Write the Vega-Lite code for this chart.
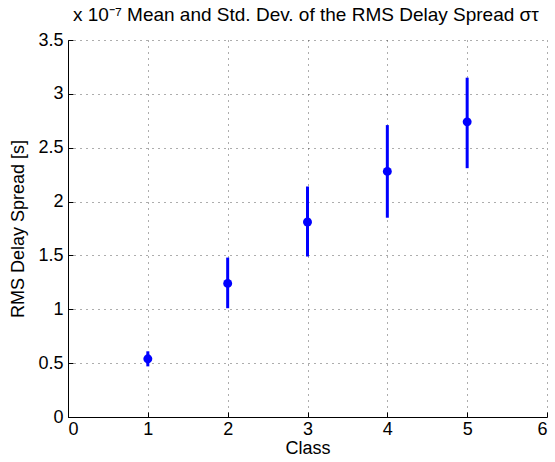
{
  "$schema": "https://vega.github.io/schema/vega-lite/v6.json",
  "width": 479,
  "height": 377,
  "autosize": {"type": "none"},
  "padding": {"left": 68, "top": 40, "right": 8, "bottom": 45},
  "background": "white",
  "config": {
    "font": "Liberation Sans",
    "view": {"stroke": null},
    "axis": {
      "domainColor": "black",
      "domainWidth": 1,
      "tickColor": "black",
      "tickSize": -5,
      "labelColor": "black",
      "labelFontSize": 18,
      "titleFontSize": 18,
      "titleFontWeight": "normal",
      "titleColor": "black",
      "gridColor": "#333333",
      "gridDash": [1, 5],
      "gridOpacity": 0.8,
      "labelFont": "Liberation Sans",
      "titleFont": "Liberation Sans"
    }
  },
  "title": {
    "text": "x 10⁻⁷ Mean and Std. Dev. of the RMS Delay Spread στ",
    "anchor": "start",
    "frame": "group",
    "fontSize": 19,
    "fontWeight": "normal",
    "font": "Liberation Sans",
    "color": "black",
    "offset": 6,
    "dx": 5
  },
  "data": {
    "values": [
      {"cls": 1, "mean": 5.4e-8, "lo": 4.7e-8, "hi": 6.1e-8},
      {"cls": 2, "mean": 1.24e-7, "lo": 1.01e-7, "hi": 1.48e-7},
      {"cls": 3, "mean": 1.81e-7, "lo": 1.49e-7, "hi": 2.14e-7},
      {"cls": 4, "mean": 2.28e-7, "lo": 1.85e-7, "hi": 2.71e-7},
      {"cls": 5, "mean": 2.74e-7, "lo": 2.31e-7, "hi": 3.15e-7}
    ]
  },
  "layer": [
    {
      "mark": {"type": "rule", "color": "#0000ff", "strokeWidth": 3},
      "encoding": {
        "x": {
          "field": "cls",
          "type": "quantitative",
          "scale": {"domain": [0, 6], "nice": false},
          "axis": {"values": [0, 1, 2, 3, 4, 5, 6], "format": "d", "grid": true, "title": "Class", "titlePadding": 1, "labelPadding": 8}
        },
        "y": {
          "field": "lo",
          "type": "quantitative",
          "scale": {"domain": [0, 3.5e-7], "nice": false},
          "axis": {
            "values": [0, 5e-8, 1e-7, 1.5e-7, 2e-7, 2.5e-7, 3e-7, 3.5e-7],
            "labelExpr": "format(datum.value*1e7, '~g')",
            "grid": true,
            "title": "RMS Delay Spread [s]",
            "titlePadding": 10,
            "labelPadding": 10
          }
        },
        "y2": {"field": "hi"}
      }
    },
    {
      "mark": {"type": "point", "shape": "circle", "filled": true, "color": "#0000ff", "opacity": 1, "size": 80},
      "encoding": {
        "x": {"field": "cls", "type": "quantitative"},
        "y": {"field": "mean", "type": "quantitative"}
      }
    }
  ]
}
